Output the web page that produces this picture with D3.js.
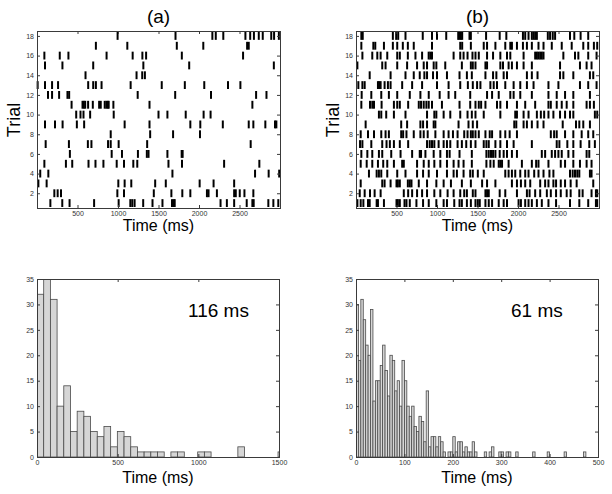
<!DOCTYPE html>
<html>
<head>
<meta charset="utf-8">
<script src="https://cdn.jsdelivr.net/npm/d3@7"></script>
<style>
  body { margin: 0; background: #fff; }
  svg text { font-family: Arial, "Liberation Sans", sans-serif; }
</style>
</head>
<body>
<div id="chart"></div>
<script>
// spike times (ms) per trial, trial 1 first
var spikesA = [
  [165, 312, 402, 705, 1008, 1152, 1176, 1205, 1311, 1426, 1549, 1667, 1688, 1700, 2266, 2344, 2434, 2589, 2659, 2675, 2856, 2918, 2979],
  [214, 255, 296, 992, 1074, 1442, 1659, 1794, 1893, 2098, 2118, 2221, 2434, 2454, 2503, 2561, 2671],
  [17, 119, 1004, 1082, 1164, 1459, 1590, 2008, 2180, 2434],
  [40, 140, 1672, 2692, 2860, 2990],
  [91, 357, 435, 636, 722, 820, 984, 1074, 1189, 1238, 1623, 1790, 2310, 2745],
  [406, 922, 1049, 1246, 1356, 1377, 1610, 1786, 1798],
  [107, 394, 628, 672, 877, 910, 1008, 1360, 2638],
  [910, 1397, 1680, 2012],
  [99, 222, 316, 492, 582, 1082, 1389, 1893, 2016, 2294, 2614, 2671, 2819, 2938, 2955],
  [484, 537, 574, 656, 947, 1500, 1610, 1836, 2057, 2143],
  [427, 562, 578, 595, 631, 689, 767, 787, 836, 857, 873, 885, 943, 1389, 2659],
  [136, 186, 273, 376, 397, 1243, 1706, 2148, 2705, 2833],
  [8, 99, 186, 260, 632, 694, 727, 797, 1156, 1540, 1825, 2065, 2358, 2511],
  [599, 1229, 1299, 1332],
  [99, 314, 694, 1313, 1879, 2924],
  [91, 281, 388, 859, 1181, 1301, 1347, 1788, 2544],
  [727, 1115, 1726, 2053, 2594, 2614],
  [995, 1710, 2165, 2207, 2300, 2573, 2632, 2678, 2738, 2787, 2892, 2927, 2986]
];

var spikesB = [
  [17, 58, 91, 148, 169, 255, 271, 345, 500, 517, 541, 599, 623, 664, 746, 828, 898, 992, 1082, 1123, 1213, 1278, 1307, 1369, 1418, 1475, 1504, 1528, 1598, 1639, 1680, 1762, 1823, 1864, 2007, 2036, 2089, 2130, 2171, 2233, 2294, 2376, 2470, 2642, 2757, 2867, 2962, 2978],
  [46, 107, 173, 230, 304, 590, 644, 693, 754, 816, 877, 967, 1041, 1131, 1205, 1287, 1336, 1369, 1442, 1475, 1598, 1618, 1639, 1774, 1843, 1987, 2110, 2143, 2212, 2274, 2356, 2405, 2470, 2528, 2601, 2650, 2757, 2798, 2908, 2962, 2978],
  [58, 324, 353, 427, 500, 517, 541, 640, 664, 685, 775, 877, 992, 1082, 1172, 1307, 1418, 1557, 1618, 1721, 1925, 1987, 2036, 2089, 2151, 2274, 2335, 2376, 2437, 2470, 2528, 2581, 2650, 2724, 2929],
  [160, 255, 283, 312, 386, 509, 611, 754, 828, 898, 1000, 1123, 1205, 1246, 1328, 1410, 1442, 1504, 1577, 1843, 1884, 1925, 1966, 2028, 2089, 2130, 2200, 2253, 2315, 2388, 2437, 2642, 2675, 2704, 2732, 2757, 2888, 2908],
  [58, 132, 201, 271, 336, 386, 468, 570, 590, 754, 836, 898, 967, 1041, 1123, 1205, 1266, 1328, 1430, 1610, 1659, 1700, 1762, 1782, 1803, 1884, 2048, 2171, 2224, 2253, 2376, 2528, 2581, 2683, 2765, 2847, 2908],
  [66, 140, 201, 283, 324, 435, 550, 693, 787, 803, 857, 959, 1041, 1123, 1156, 1278, 1430, 1610, 1639, 1667, 1692, 1721, 1774, 1823, 1864, 1925, 1987, 2294, 2335, 2417, 2458, 2499, 2540, 2622, 2683, 2847, 2880],
  [50, 79, 189, 324, 377, 418, 468, 541, 644, 877, 910, 938, 967, 1020, 1082, 1123, 1164, 1254, 1307, 1361, 1418, 1475, 1577, 1610, 1639, 1721, 1782, 1864, 1946, 2171, 2478, 2511, 2609, 2683, 2773, 2880, 2949],
  [58, 148, 222, 312, 365, 406, 558, 582, 623, 713, 795, 836, 885, 980, 1082, 1143, 1197, 1254, 1336, 1377, 1418, 1442, 1475, 1516, 1598, 1651, 1680, 1782, 1843, 1897, 1987, 2405, 2446, 2478, 2581, 2683, 2786, 2867, 2929],
  [119, 558, 631, 795, 828, 877, 959, 980, 1266, 1389, 1442, 1495, 1954, 1979, 2069, 2110, 2171, 2241, 2315, 2552, 2716, 2757, 2806, 2888],
  [283, 312, 373, 468, 611, 877, 967, 992, 1082, 1164, 1287, 1377, 1430, 1475, 1577, 1782, 1966, 1987, 2069, 2130, 2233, 2282, 2323, 2376, 2437, 2519, 2581, 2642, 2683, 2949, 2978],
  [66, 173, 201, 222, 316, 468, 509, 541, 644, 775, 803, 836, 869, 898, 938, 1061, 1278, 1410, 1475, 1516, 1545, 1598, 1741, 1782, 1864, 1987, 2089, 2212, 2376, 2405, 2478, 2540, 2601, 2683, 2847, 2888, 2937],
  [70, 189, 312, 406, 509, 664, 795, 898, 1033, 1143, 1225, 1410, 1618, 1680, 1762, 1905, 1946, 2028, 2171, 2376, 2478, 2581, 2683, 2888],
  [29, 79, 107, 271, 287, 304, 353, 394, 427, 570, 693, 816, 1000, 1143, 1287, 1381, 1442, 1495, 1536, 1659, 1700, 1741, 1843, 1946, 2028, 2110, 2192, 2376, 2499, 2765, 2867, 2970],
  [169, 427, 611, 713, 787, 844, 877, 951, 1000, 1123, 1278, 1369, 1430, 1598, 1692, 1733, 1823, 1864, 2110, 2171, 2241, 2519, 2560, 2683, 2888, 2929],
  [17, 324, 365, 509, 631, 754, 836, 877, 959, 992, 1102, 1307, 1418, 1442, 1475, 1598, 1618, 1782, 1815, 1884, 1925, 1987, 2069, 2171, 2519, 2765, 2847, 2908],
  [79, 201, 263, 304, 386, 509, 541, 640, 734, 816, 897, 918, 938, 1205, 1287, 1328, 1377, 1438, 1475, 1516, 1618, 1692, 1782, 1864, 1905, 2069, 2212, 2233, 2253, 2274, 2294, 2315, 2560, 2704, 2745, 2867, 2970],
  [66, 214, 238, 345, 455, 509, 578, 640, 713, 938, 1287, 1311, 1418, 1577, 1618, 1721, 1843, 1905, 1925, 1987, 2061, 2110, 2171, 2253, 2315, 2417, 2540, 2663, 2806, 2867, 2937, 2978],
  [66, 83, 455, 496, 521, 611, 824, 938, 1000, 1114, 1262, 1278, 1295, 1311, 1401, 1418, 1606, 1774, 1856, 2061, 2089, 2130, 2171, 2192, 2212, 2233, 2368, 2396, 2429, 2458, 2642, 2695, 2773, 2867]
];

// ISI histograms (counts per bin, bins start at 0)
var binWidthA = 41.5;
var countsA = [32, 35, 31, 10, 14, 5, 9, 8, 5, 4, 6, 2, 5, 4, 2, 1, 1, 1, 1, 0, 1, 1, 0, 0, 1, 1, 0, 0, 0, 0, 2, 0, 0, 0, 0, 0, 1];
var binWidthB = 5;
var countsB = [30, 19, 31, 27, 22, 20, 29, 11, 15, 15, 18, 22, 17, 12, 20, 19, 13, 15, 10, 19,
               15, 10, 8, 10, 6, 5, 8, 7, 3, 13, 2, 4, 4, 2, 4, 3, 1, 0, 1, 1,
               4, 1, 3, 3, 1, 2, 1, 1, 3, 1, 0, 0, 0, 1, 0, 1, 2, 0, 0, 1,
               1, 0, 1, 1, 0, 0, 1, 0, 0, 0, 0, 0, 0, 1, 0, 0, 0, 0, 0, 1,
               0, 0, 0, 0, 0, 0, 1, 0, 0, 0, 0, 0, 0, 0, 1, 0, 0, 0, 0, 0];

var rasterXTicks = [500, 1000, 1500, 2000, 2500];
var rasterYTicks = [2, 4, 6, 8, 10, 12, 14, 16, 18];
var histYTicks = [0, 5, 10, 15, 20, 25, 30, 35];
var histXTicksA = [0, 500, 1000, 1500];
var histXTicksB = [0, 100, 200, 300, 400, 500];
var titles = ["(a)", "(b)"];
var meanLabels = ["116 ms", "61 ms"];

var width = 612, height = 494;
var frameColor = "#3a3a3a", tickTextColor = "#333";

var svg = d3.select("#chart")
    .append("svg")
        .attr("width", width)
        .attr("height", height);

// draw ticks on all four sides, pointing inward, plus the box
function drawFrame(g, x, y, xTicks, yTicks) {
  var x0 = x.range()[0], x1 = x.range()[1];
  var y0 = y.range()[0], y1 = y.range()[1];
  var fmt = d3.format("d");

  function style(sel) {
    sel.select(".domain").remove();
    sel.selectAll(".tick line").attr("stroke", frameColor);
    sel.selectAll(".tick text")
        .attr("fill", tickTextColor)
        .attr("font-size", "7px");
  }

  g.append("g")
      .attr("transform", "translate(0," + y0 + ")")
      .call(d3.axisBottom(x).tickValues(xTicks).tickFormat(fmt).tickSize(-3).tickPadding(3))
      .call(style);
  g.append("g")
      .attr("transform", "translate(0," + y1 + ")")
      .call(d3.axisTop(x).tickValues(xTicks).tickSize(-3).tickFormat(""))
      .call(style);
  g.append("g")
      .attr("transform", "translate(" + x0 + ",0)")
      .call(d3.axisLeft(y).tickValues(yTicks).tickFormat(fmt).tickSize(-3).tickPadding(3))
      .call(style);
  g.append("g")
      .attr("transform", "translate(" + x1 + ",0)")
      .call(d3.axisRight(y).tickValues(yTicks).tickSize(-3).tickFormat(""))
      .call(style);

  g.append("rect")
      .attr("x", x0 + 0.5)
      .attr("y", y1 + 0.5)
      .attr("width", x1 - x0)
      .attr("height", y0 - y1)
      .attr("fill", "none")
      .attr("stroke", frameColor)
      .attr("stroke-width", 1);
}

function drawRaster(left, spikes, title) {
  var g = svg.append("g");
  var x = d3.scaleLinear().domain([0, 3000]).range([left, left + 243]);
  var y = d3.scaleLinear().domain([0.5, 18.5]).range([208, 31]);

  var points = [];
  spikes.forEach(function(times, i) {
    times.forEach(function(t) { points.push({t: t, trial: i + 1}); });
  });

  g.append("g")
    .selectAll("line")
    .data(points)
    .enter()
    .append("line")
        .attr("x1", function(d) { return x(d.t); })
        .attr("x2", function(d) { return x(d.t); })
        .attr("y1", function(d) { return y(d.trial - 0.4); })
        .attr("y2", function(d) { return y(d.trial + 0.4); })
        .attr("stroke", "#000")
        .attr("stroke-width", 2);

  drawFrame(g, x, y, rasterXTicks, rasterYTicks);

  var mid = left + 121.5;
  g.append("text")
      .attr("x", mid)
      .attr("y", 23)
      .attr("text-anchor", "middle")
      .attr("font-size", "19px")
      .text(title);

  g.append("text")
      .attr("x", mid)
      .attr("y", 231)
      .attr("text-anchor", "middle")
      .attr("font-size", "16px")
      .text("Time (ms)");

  g.append("text")
      .attr("transform", "translate(" + (left - 17) + ",120) rotate(-90)")
      .attr("text-anchor", "middle")
      .attr("font-size", "18px")
      .text("Trial");
}

function drawHist(left, counts, binWidth, xMax, xTicks, label, labelX, clipId) {
  var g = svg.append("g");
  var x = d3.scaleLinear().domain([0, xMax]).range([left, left + 242]);
  var y = d3.scaleLinear().domain([0, 35]).range([457, 279]);

  g.append("clipPath")
      .attr("id", clipId)
    .append("rect")
      .attr("x", left)
      .attr("y", 279)
      .attr("width", 242)
      .attr("height", 178);

  var bins = counts.map(function(c, i) { return {i: i, count: c}; })
      .filter(function(d) { return d.count > 0; });

  g.append("g")
      .attr("clip-path", "url(#" + clipId + ")")
    .selectAll("rect")
    .data(bins)
    .enter()
    .append("rect")
        .attr("x", function(d) { return x(d.i * binWidth); })
        .attr("width", function(d) { return x((d.i + 1) * binWidth) - x(d.i * binWidth); })
        .attr("y", function(d) { return y(d.count); })
        .attr("height", function(d) { return y(0) - y(d.count); })
        .attr("fill", "#d6d6d6")
        .attr("stroke", "#4a4a4a")
        .attr("stroke-width", 0.8);

  drawFrame(g, x, y, xTicks, histYTicks);

  g.append("text")
      .attr("x", left + 121)
      .attr("y", 483)
      .attr("text-anchor", "middle")
      .attr("font-size", "16px")
      .text("Time (ms)");

  g.append("text")
      .attr("x", labelX)
      .attr("y", 317)
      .attr("font-size", "19px")
      .text(label);
}

drawRaster(37, spikesA, titles[0]);
drawRaster(356, spikesB, titles[1]);
drawHist(37, countsA, binWidthA, 1500, histXTicksA, meanLabels[0], 188, "clipA");
drawHist(356, countsB, binWidthB, 500, histXTicksB, meanLabels[1], 511, "clipB");
</script>
</body>
</html>
